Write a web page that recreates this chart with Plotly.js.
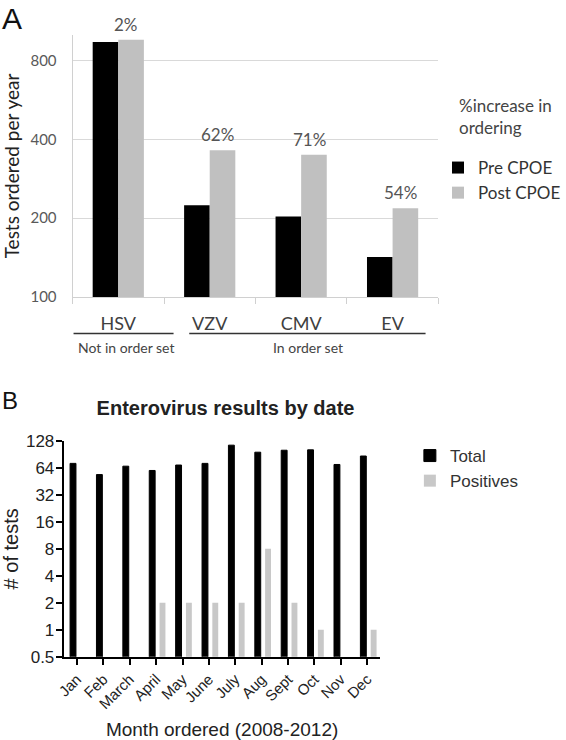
<!DOCTYPE html>
<html><head><meta charset="utf-8">
<script src="https://cdn.plot.ly/plotly-3.0.1.min.js"></script>
<style>html,body{margin:0;padding:0;background:#fff}#chart{width:566px;height:740px}</style>
</head><body><div id="chart"></div>
<script>
// Panel A data
const virusCats = ['HSV', 'VZV', 'CMV', 'EV'];
const preCPOE = [940, 224, 203, 142];
const postCPOE = [960, 363, 349, 218];
const pctLabels = ['2%', '62%', '71%', '54%'];
const yTicksA = [100, 200, 400, 800];
// Panel B data
const months = ['Jan', 'Feb', 'March', 'April', 'May', 'June', 'July', 'Aug', 'Sept', 'Oct', 'Nov', 'Dec'];
const totalTests = [72, 54, 67, 60, 69, 72, 115, 96, 101, 102, 70, 87];
const positiveTests = [null, null, null, 2, 2, 2, 2, 8, 2, 1, null, 1];
const yTicksB = [0.5, 1, 2, 4, 8, 16, 32, 64, 128];

const W = 566, H = 740;
const px = v => v / W;
const py = v => 1 - v / H;
const fA = 'Lato, "Open Sans", sans-serif';
const fB = '"Liberation Sans", Arial, sans-serif';

const traces = [
  {type: 'bar', x: virusCats, y: preCPOE, name: 'Pre CPOE', xaxis: 'x', yaxis: 'y', legend: 'legend',
   marker: {color: '#000000'}, width: 0.28, offset: -0.28, hoverinfo: 'skip'},
  {type: 'bar', x: virusCats, y: postCPOE, name: 'Post CPOE', xaxis: 'x', yaxis: 'y', legend: 'legend',
   marker: {color: '#c0c0c0'}, width: 0.28, offset: 0, hoverinfo: 'skip'},
  {type: 'bar', x: months, y: totalTests, name: 'Total', xaxis: 'x2', yaxis: 'y2', legend: 'legend2',
   marker: {color: '#000000', line: {color: '#000000', width: 1}}, width: 0.223, offset: -0.26, hoverinfo: 'skip'},
  {type: 'bar', x: months, y: positiveTests, name: 'Positives', xaxis: 'x2', yaxis: 'y2', legend: 'legend2',
   marker: {color: '#c8c8c8'}, width: 0.223, offset: 0.13, hoverinfo: 'skip'}
];

const annotations = [
  {text: 'A', xref: 'paper', yref: 'paper', x: 0, y: py(0), xanchor: 'left', yanchor: 'top', showarrow: false,
   font: {family: fB, size: 30, color: '#111'}},
  {text: 'B', xref: 'paper', yref: 'paper', x: 0, y: py(385), xanchor: 'left', yanchor: 'top', showarrow: false,
   font: {family: fB, size: 24, color: '#111'}},
  {text: 'Not in order set', xref: 'paper', yref: 'paper', x: px(128), y: py(347), xanchor: 'center', yanchor: 'middle',
   showarrow: false, font: {family: fA, size: 14, color: '#444'}},
  {text: 'In order set', xref: 'paper', yref: 'paper', x: px(314), y: py(347), xanchor: 'center', yanchor: 'middle',
   showarrow: false, font: {family: fA, size: 14, color: '#444'}},
  {text: '%increase in<br>ordering', xref: 'paper', yref: 'paper', x: px(466), y: py(93), xanchor: 'left', yanchor: 'top',
   align: 'left', showarrow: false, font: {family: fA, size: 17, color: '#444'}}
];
virusCats.forEach((c, i) => {
  annotations.push({text: pctLabels[i], xref: 'x', yref: 'y', x: c, y: Math.log10(postCPOE[i]),
    xanchor: 'center', yanchor: 'bottom', xshift: 8, yshift: 3, showarrow: false,
    font: {family: fA, size: 17, color: '#555'}});
});

const layout = {
  width: W, height: H,
  margin: {l: 0, r: 0, t: 0, b: 0},
  paper_bgcolor: '#ffffff', plot_bgcolor: '#ffffff',
  barmode: 'overlay',
  title: {text: '<b>Enterovirus results by date</b>', font: {family: fB, size: 20, color: '#222'},
    x: px(230), xref: 'paper', xanchor: 'center', y: py(408), yref: 'container', yanchor: 'middle'},
  xaxis: {domain: [px(74), px(447)], anchor: 'y', type: 'category', range: [-0.5, 3.5],
    showline: true, linecolor: '#d0d0d0', linewidth: 1, ticks: 'outside', tickson: 'boundaries',
    ticklen: 6, tickcolor: '#d0d0d0', showgrid: false, ticklabelstandoff: 10,
    tickfont: {family: fA, size: 18, color: '#404040'}},
  yaxis: {domain: [py(297), py(35)], anchor: 'x', type: 'log', range: [2, 3],
    tickvals: yTicksA, ticktext: yTicksA.map(String), showgrid: true, gridcolor: '#d9d9d9',
    showline: true, linecolor: '#d0d0d0', ticks: '', ticklabelstandoff: 12, zeroline: false,
    tickfont: {family: fA, size: 15, color: '#595959'},
    title: {text: 'Tests ordered per year', font: {family: fA, size: 19, color: '#222'}, standoff: 8}},
  xaxis2: {domain: [px(65), px(388)], anchor: 'y2', type: 'category', range: [-0.5, 11.5],
    showline: true, linecolor: '#000', linewidth: 2, ticks: 'outside', ticklen: 6, tickwidth: 2,
    tickcolor: '#000', tickangle: -45, showgrid: false,
    tickfont: {family: fB, size: 15, color: '#222'},
    title: {text: 'Month ordered (2008-2012)', font: {family: fB, size: 19, color: '#222'}, standoff: 16}},
  yaxis2: {domain: [py(656.7), py(441)], anchor: 'x2', type: 'log', range: [Math.log10(0.5), Math.log10(128)],
    tickvals: yTicksB, ticktext: yTicksB.map(String), showline: true, linecolor: '#000', linewidth: 2,
    ticks: 'outside', ticklen: 6, tickwidth: 2, tickcolor: '#000', showgrid: false, zeroline: false,
    ticklabelstandoff: -2,
    tickfont: {family: fB, size: 17, color: '#222'},
    title: {text: '# of tests', font: {family: fB, size: 20, color: '#222'}, standoff: 6}},
  showlegend: true,
  legend: {x: px(447), y: py(150), xanchor: 'left', yanchor: 'top', bgcolor: 'rgba(0,0,0,0)',
    traceorder: 'normal', font: {family: fA, size: 17, color: '#333'}},
  legend2: {x: px(418), y: py(438), xanchor: 'left', yanchor: 'top', bgcolor: 'rgba(0,0,0,0)',
    traceorder: 'normal', font: {family: fB, size: 17, color: '#333'}},
  annotations: annotations,
  shapes: [
    {type: 'line', xref: 'paper', yref: 'paper', x0: px(75), x1: px(177), y0: py(333.5), y1: py(333.5),
     line: {color: '#333', width: 1.5}},
    {type: 'line', xref: 'paper', yref: 'paper', x0: px(193), x1: px(434), y0: py(333.5), y1: py(333.5),
     line: {color: '#333', width: 1.5}}
  ]
};

Plotly.newPlot('chart', traces, layout, {displayModeBar: false, staticPlot: true});
</script>
</body></html>
